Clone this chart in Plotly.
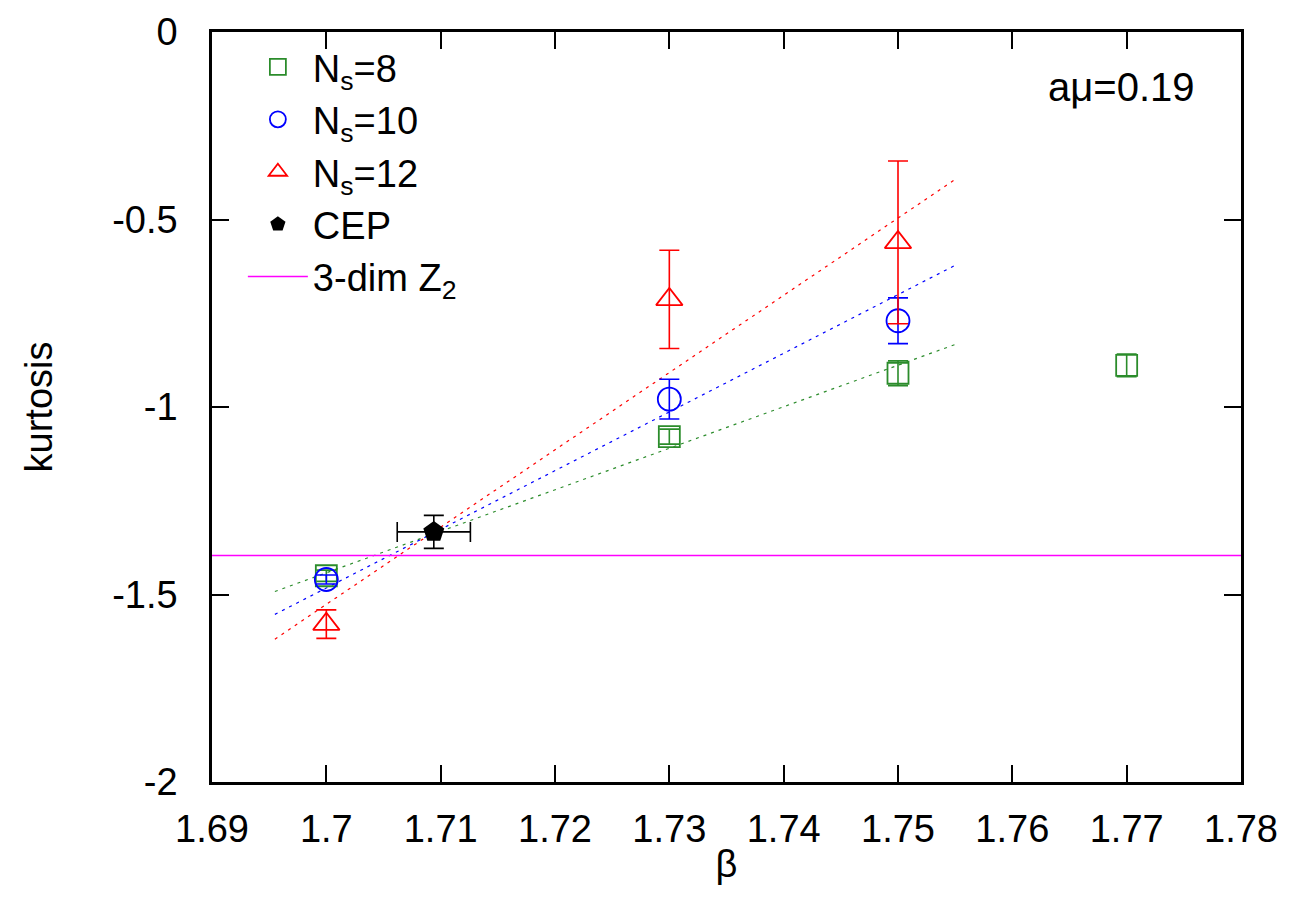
import plotly.graph_objects as go

# ---------------- data ----------------
beta_ns8 = [1.70, 1.73, 1.75, 1.77]
kurt_ns8 = [-1.45, -1.079, -0.910, -0.889]
err_ns8 = [0.015, 0.02, 0.033, 0.03]

beta_ns10 = [1.70, 1.73, 1.75]
kurt_ns10 = [-1.46, -0.979, -0.770]
err_ns10 = [0.012, 0.053, 0.061]

beta_ns12 = [1.70, 1.73, 1.75]
kurt_ns12 = [-1.579, -0.713, -0.561]
err_ns12 = [0.038, 0.131, 0.217]

cep_beta = [1.7094]
cep_kurt = [-1.333]
cep_err_beta = [0.0032]
cep_err_kurt = [0.044]

z2_value = -1.396

fit_beta = [1.6955, 1.7552]
fit_ns8 = [-1.492, -0.831]
fit_ns10 = [-1.553, -0.619]
fit_ns12 = [-1.619, -0.389]

x_range = [1.69, 1.78]
y_range = [-2.0, 0.0]
x_ticks = [1.69, 1.70, 1.71, 1.72, 1.73, 1.74, 1.75, 1.76, 1.77, 1.78]
x_tick_labels = ["1.69", "1.7", "1.71", "1.72", "1.73", "1.74", "1.75", "1.76", "1.77", "1.78"]
y_ticks = [-2, -1.5, -1, -0.5, 0]
y_tick_labels = ["-2", "-1.5", "-1", "-0.5", "0"]

GREEN = "#2b8c2b"
BLUE = "#0000ff"
RED = "#ff0000"
BLACK = "#000000"
MAGENTA = "#ff00ff"
FONT = "Liberation Sans, Arial, sans-serif"

fig = go.Figure()

# fit lines (dotted)
for fy, col in [(fit_ns8, GREEN), (fit_ns10, BLUE), (fit_ns12, RED)]:
    fig.add_trace(go.Scatter(x=fit_beta, y=fy, mode="lines",
                             line=dict(color=col, width=1.2, dash="3px,5px"),
                             showlegend=False, hoverinfo="skip"))

def ebar(err, col):
    return dict(type="data", array=err, visible=True, color=col, thickness=1.6, width=10)

fig.add_trace(go.Scatter(x=beta_ns8, y=kurt_ns8, mode="markers", name="N<sub>s</sub>=8",
                         marker=dict(symbol="square-open", size=21, color=GREEN, line=dict(width=1.8, color=GREEN)),
                         error_y=ebar(err_ns8, GREEN)))
fig.add_trace(go.Scatter(x=beta_ns10, y=kurt_ns10, mode="markers", name="N<sub>s</sub>=10",
                         marker=dict(symbol="circle-open", size=23, color=BLUE, line=dict(width=1.8, color=BLUE)),
                         error_y=ebar(err_ns10, BLUE)))
fig.add_trace(go.Scatter(x=beta_ns12, y=kurt_ns12, mode="markers", name="N<sub>s</sub>=12",
                         marker=dict(symbol="triangle-up-open", size=23, color=RED, line=dict(width=1.8, color=RED)),
                         error_y=ebar(err_ns12, RED)))
fig.add_trace(go.Scatter(x=cep_beta, y=cep_kurt, mode="markers", name="CEP",
                         marker=dict(symbol="pentagon", size=22, color=BLACK),
                         error_y=ebar(cep_err_kurt, BLACK),
                         error_x=ebar(cep_err_beta, BLACK)))
fig.add_trace(go.Scatter(x=x_range, y=[z2_value, z2_value], mode="lines", name="3-dim Z<sub>2</sub>",
                         line=dict(color=MAGENTA, width=1.6)))

axis_common = dict(
    showgrid=False, zeroline=False, showline=True, linecolor="black", linewidth=2.5,
    mirror="ticks", ticks="inside", ticklen=17, tickwidth=2, tickcolor="black",
    tickfont=dict(family=FONT, size=38, color="black"),
    automargin=False, ticklabeloverflow="allow",
)

fig.update_xaxes(range=x_range, tickmode="array", tickvals=x_ticks, ticktext=x_tick_labels,
                 ticklabelstandoff=12,
                 title=dict(text="β", font=dict(family=FONT, size=38, color="black"), standoff=2),
                 **axis_common)
fig.update_yaxes(range=y_range, tickmode="array", tickvals=y_ticks, ticktext=y_tick_labels,
                 ticklabelstandoff=24,
                 title=dict(text="kurtosis", font=dict(family=FONT, size=38, color="black"), standoff=48),
                 **axis_common)

fig.add_annotation(text="aμ=0.19", xref="paper", yref="paper", x=0.957, y=0.927,
                   xanchor="right", yanchor="middle", showarrow=False,
                   font=dict(family=FONT, size=40, color="black"))

fig.update_layout(
    width=1291, height=915,
    margin=dict(l=204, r=58, t=24, b=141),
    plot_bgcolor="white", paper_bgcolor="white",
    font=dict(family=FONT, size=38, color="black"),
    legend=dict(x=0.03, y=0.995, xanchor="left", yanchor="top", bgcolor="rgba(0,0,0,0)",
                font=dict(family=FONT, size=38, color="black"), itemwidth=60, tracegroupgap=0),
    showlegend=True,
)

fig.write_html("out.html")
